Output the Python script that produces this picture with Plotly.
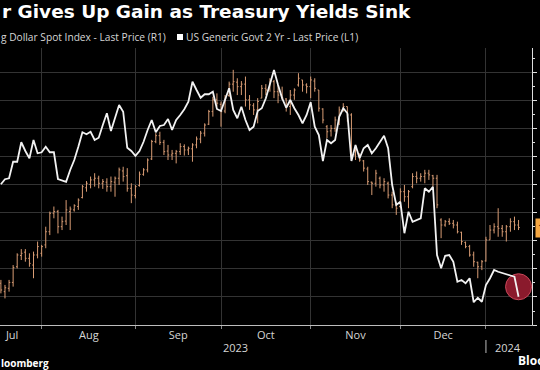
import plotly.graph_objects as go
import pandas as pd

W, H = 540, 370
ML, MR, MT, MB = 0, 8, 48, 45
PW, PH = W - ML - MR, H - MT - MB

def px(x):
    return (x - ML) / PW

def py(y):
    return (H - MB - y) / PH

# ---------------- data ----------------
dates = pd.bdate_range("2023-07-18", periods=128)

ust2y = [
    4.763, 4.783, 4.787, 4.853, 4.853, 4.931, 4.896, 4.867, 4.940, 4.887,
    4.891, 4.913, 4.891, 4.891, 4.784, 4.780, 4.773, 4.820, 4.860, 4.913,
    4.971, 4.963, 4.973, 4.940, 4.949, 5.000, 5.047, 4.976, 5.033, 5.080,
    5.053, 4.909, 4.896, 4.877, 4.896, 4.933, 4.980, 5.020, 4.971, 4.996,
    5.000, 5.024, 4.980, 5.020, 5.040, 5.063, 5.093, 5.173, 5.140, 5.109,
    5.123, 5.123, 5.133, 5.064, 5.056, 5.100, 5.147, 5.060, 5.027, 5.073,
    5.020, 4.980, 4.993, 5.056, 5.067, 5.107, 5.160, 5.220, 5.160, 5.107,
    5.069, 5.100, 5.067, 5.040, 5.007, 5.040, 5.091, 4.993, 4.960, 4.856,
    4.940, 4.927, 4.940, 5.033, 5.067, 5.047, 4.856, 4.920, 4.867, 4.907,
    4.920, 4.887, 4.907, 4.933, 4.957, 4.907, 4.760, 4.680, 4.693, 4.567,
    4.653, 4.613, 4.620, 4.627, 4.747, 4.733, 4.753, 4.480, 4.427, 4.477,
    4.480, 4.453, 4.373, 4.380, 4.367, 4.387, 4.291, 4.309, 4.293, 4.360,
    4.387, 4.420, 4.413, 4.407, 4.402, 4.398, 4.393, 4.313,
]

dxy_open = [
    1194.9, 1191.9, 1193.1, 1195.2, 1200.8, 1204.8, 1206.0, 1203.8, 1201.4, 1205.0,
    1205.6, 1208.6, 1213.3, 1219.9, 1220.5, 1215.1, 1217.1, 1220.5, 1221.1, 1222.3,
    1225.5, 1229.0, 1230.2, 1231.8, 1232.4, 1230.6, 1231.0, 1229.4, 1231.0, 1232.4,
    1235.0, 1233.3, 1228.8, 1226.2, 1229.8, 1233.8, 1235.4, 1239.3, 1245.5, 1247.6,
    1245.2, 1242.1, 1240.7, 1241.3, 1241.9, 1243.7, 1242.5, 1242.9, 1244.3, 1246.4,
    1248.5, 1251.7, 1256.2, 1260.4, 1258.8, 1256.4, 1261.9, 1266.0, 1266.7, 1265.1,
    1266.0, 1260.4, 1258.3, 1256.8, 1261.0, 1264.5, 1264.3, 1266.9, 1263.3, 1262.1,
    1260.7, 1258.0, 1262.1, 1265.7, 1267.5, 1265.7, 1265.1, 1267.1, 1263.9, 1257.1,
    1250.8, 1249.3, 1250.2, 1253.2, 1256.8, 1258.0, 1255.0, 1240.7, 1240.7, 1238.6,
    1235.7, 1231.0, 1230.6, 1232.4, 1230.0, 1230.6, 1226.4, 1222.9, 1222.3, 1227.6,
    1225.8, 1229.4, 1233.0, 1232.4, 1233.0, 1234.2, 1233.3, 1232.4, 1217.5, 1215.7,
    1216.9, 1216.3, 1215.7, 1213.1, 1209.5, 1208.0, 1205.0, 1202.4, 1200.8, 1202.9,
    1210.4, 1213.9, 1215.1, 1214.5, 1213.3, 1215.1, 1216.9, 1215.7,
]
dxy_high = [
    1196.1, 1194.3, 1196.1, 1201.4, 1205.6, 1207.1, 1207.1, 1205.6, 1206.2, 1209.8,
    1208.6, 1215.1, 1220.5, 1222.3, 1221.1, 1218.7, 1224.6, 1222.3, 1223.1, 1225.2,
    1230.0, 1231.4, 1233.0, 1234.2, 1233.3, 1232.1, 1232.4, 1233.0, 1233.0, 1236.2,
    1236.5, 1236.0, 1230.6, 1230.0, 1234.8, 1236.0, 1239.5, 1246.1, 1248.5, 1249.0,
    1246.1, 1244.3, 1242.5, 1242.5, 1244.9, 1244.5, 1243.7, 1244.9, 1247.3, 1249.3,
    1252.0, 1256.8, 1261.5, 1262.7, 1259.8, 1262.1, 1266.9, 1271.1, 1268.1, 1267.1,
    1268.7, 1262.1, 1259.2, 1261.0, 1265.7, 1266.0, 1268.1, 1267.5, 1265.7, 1265.1,
    1261.0, 1263.9, 1264.5, 1269.9, 1267.5, 1266.3, 1268.7, 1268.1, 1263.9, 1257.4,
    1251.4, 1251.4, 1254.4, 1258.0, 1259.2, 1258.0, 1255.6, 1244.3, 1241.3, 1238.9,
    1236.5, 1231.2, 1235.4, 1233.0, 1232.4, 1231.2, 1227.6, 1224.0, 1228.8, 1230.0,
    1228.2, 1234.2, 1234.8, 1234.2, 1235.4, 1235.4, 1233.6, 1233.6, 1218.1, 1217.5,
    1218.1, 1217.5, 1216.9, 1213.3, 1209.8, 1208.6, 1206.2, 1202.6, 1203.2, 1211.5,
    1215.7, 1216.3, 1221.7, 1215.7, 1215.7, 1218.1, 1218.7, 1217.5,
]
dxy_low = [
    1191.3, 1189.5, 1191.9, 1193.7, 1200.2, 1203.2, 1202.6, 1200.8, 1196.7, 1203.8,
    1204.4, 1207.4, 1212.1, 1218.1, 1212.7, 1213.9, 1215.7, 1213.9, 1220.5, 1221.1,
    1225.2, 1227.6, 1228.8, 1229.4, 1228.8, 1228.6, 1227.6, 1227.6, 1225.8, 1230.0,
    1231.2, 1227.6, 1223.5, 1225.2, 1229.4, 1233.3, 1234.5, 1238.9, 1244.9, 1244.3,
    1240.7, 1238.9, 1238.9, 1237.7, 1240.7, 1240.5, 1240.7, 1238.3, 1243.1, 1244.9,
    1247.3, 1251.4, 1254.4, 1258.0, 1250.8, 1255.6, 1261.5, 1263.3, 1262.1, 1262.1,
    1258.0, 1256.8, 1255.0, 1252.0, 1261.0, 1262.1, 1263.3, 1261.0, 1259.2, 1260.4,
    1256.2, 1255.0, 1260.4, 1265.1, 1263.3, 1262.7, 1261.0, 1263.3, 1256.2, 1252.0,
    1246.7, 1247.3, 1249.0, 1251.4, 1256.2, 1252.6, 1238.9, 1238.9, 1238.3, 1234.8,
    1230.0, 1226.4, 1229.4, 1228.8, 1227.6, 1225.2, 1221.7, 1219.3, 1221.7, 1224.0,
    1221.7, 1228.8, 1230.6, 1231.2, 1230.6, 1231.8, 1229.4, 1221.7, 1211.0, 1215.1,
    1215.7, 1214.5, 1212.7, 1208.6, 1207.4, 1204.4, 1200.8, 1196.7, 1199.6, 1202.6,
    1210.4, 1212.7, 1211.5, 1211.5, 1209.8, 1213.3, 1213.9, 1213.9,
]
dxy_close = [
    1192.5, 1193.3, 1195.2, 1200.5, 1205.0, 1205.6, 1203.8, 1202.0, 1205.0, 1208.0,
    1208.0, 1213.3, 1219.9, 1220.5, 1215.1, 1216.9, 1221.1, 1221.4, 1222.6, 1224.6,
    1229.4, 1230.6, 1231.8, 1232.4, 1230.6, 1231.2, 1229.4, 1231.2, 1232.4, 1235.4,
    1233.0, 1228.8, 1226.4, 1229.4, 1233.8, 1235.4, 1238.9, 1245.5, 1247.6, 1245.2,
    1241.9, 1240.7, 1241.3, 1241.9, 1243.7, 1242.5, 1243.1, 1244.3, 1246.4, 1248.5,
    1251.4, 1256.2, 1260.4, 1259.2, 1256.2, 1261.0, 1266.0, 1266.9, 1265.1, 1266.0,
    1260.4, 1258.6, 1256.8, 1259.8, 1264.5, 1263.9, 1266.9, 1263.3, 1262.1, 1261.0,
    1258.0, 1262.1, 1263.9, 1268.1, 1265.7, 1265.1, 1267.5, 1264.5, 1257.4, 1253.2,
    1249.0, 1250.2, 1253.2, 1256.8, 1258.0, 1255.0, 1240.7, 1242.5, 1238.9, 1236.0,
    1231.2, 1230.6, 1234.2, 1230.0, 1231.2, 1226.4, 1222.9, 1221.7, 1227.6, 1225.8,
    1227.6, 1233.0, 1232.4, 1233.0, 1234.2, 1233.6, 1232.4, 1222.9, 1215.7, 1216.9,
    1216.3, 1215.7, 1213.3, 1209.8, 1208.0, 1205.0, 1202.6, 1200.8, 1202.6, 1210.4,
    1213.9, 1215.1, 1214.5, 1213.3, 1215.1, 1216.9, 1215.7, 1214.8,
]

month_labels = ["Jul", "Aug", "Sep", "Oct", "Nov", "Dec"]
month_label_pos = ["2023-07-20 18:00", "2023-08-16 14:00", "2023-09-15 12:00",
                   "2023-10-17 00:00", "2023-11-16 00:00", "2023-12-15 12:00"]
month_starts = ["2023-08-01", "2023-09-01", "2023-10-02", "2023-11-01",
                "2023-12-01", "2024-01-01"]
year_labels = ["2023", "2024"]

title = "r Gives Up Gain as Treasury Yields Sink"
legend1 = "g Dollar Spot Index - Last Price (R1)"
legend2 = "US Generic Govt 2 Yr - Last Price (L1)"

ORANGE = "#d89c74"
GRID = "#333333"
FONT = "Open Sans"
TFONT = "DejaVu Sans"
TXT = "#d6d6d6"

fig = go.Figure()

fig.add_trace(go.Ohlc(
    x=dates, open=dxy_open, high=dxy_high, low=dxy_low, close=dxy_close,
    increasing=dict(line=dict(color=ORANGE, width=1)),
    decreasing=dict(line=dict(color=ORANGE, width=1)),
    tickwidth=0.3, yaxis="y", showlegend=False, hoverinfo="skip",
))

fig.add_trace(go.Scatter(
    x=[dates[-1]], y=[(ust2y[-1] + ust2y[-2]) / 2], yaxis="y2", mode="markers",
    marker=dict(size=26, color="#8a1a2c", line=dict(color="#c8485a", width=1)),
    showlegend=False, hoverinfo="skip",
))

fig.add_trace(go.Scatter(
    x=dates, y=ust2y, yaxis="y2", mode="lines",
    line=dict(color="#f2f2f2", width=1.8),
    showlegend=False, hoverinfo="skip",
))

annotations = [
    dict(text=title, x=px(0), y=py(12), xanchor="left", yanchor="middle",
         font=dict(family=TFONT, size=18.5, color="white", weight="bold")),
    dict(text=legend1, x=px(-1), y=py(37), xanchor="left", yanchor="middle",
         font=dict(family=FONT, size=10.2, color=TXT)),
    dict(text=legend2, x=px(184), y=py(37), xanchor="left", yanchor="middle",
         font=dict(family=FONT, size=10.2, color=TXT)),
    dict(text=year_labels[0], x=px(235), y=py(347), xanchor="center", yanchor="middle",
         font=dict(family=FONT, size=11, color=TXT)),
    dict(text=year_labels[1], x=px(508), y=py(347), xanchor="center", yanchor="middle",
         font=dict(family=FONT, size=11, color=TXT)),
    dict(text="loomberg", x=px(-1), y=py(363), xanchor="left", yanchor="middle",
         font=dict(family=FONT, size=10, color="white", weight="bold")),
    dict(text="Bloo", x=px(516), y=py(360), xanchor="left", yanchor="middle",
         font=dict(family=FONT, size=12, color="white", weight="bold")),
    dict(text=f"{dxy_close[-1]:.2f}", xref="paper", x=1, xshift=3, xanchor="left",
         yref="y", y=dxy_close[-1], yanchor="middle", bgcolor="#f5a742",
         borderpad=2, font=dict(family=FONT, size=10, color="black")),
]
for a in annotations:
    a.setdefault("xref", "paper")
    a.setdefault("yref", "paper")
    a["showarrow"] = False

shapes = [
    dict(type="rect", xref="paper", yref="paper", x0=px(177), x1=px(183),
         y0=py(40), y1=py(34), fillcolor="white", line=dict(width=0)),
    dict(type="line", xref="x", yref="paper", x0="2024-01-01", x1="2024-01-01",
         y0=py(340), y1=py(353), line=dict(color="#bbbbbb", width=1)),
]

fig.update_layout(
    width=W, height=H,
    margin=dict(l=ML, r=MR, t=MT, b=MB, autoexpand=False),
    paper_bgcolor="black", plot_bgcolor="black",
    template="none",
    showlegend=False,
    annotations=annotations,
    shapes=shapes,
    xaxis=dict(
        type="date",
        range=["2023-07-17 18:43", "2024-01-16 07:12"],
        rangebreaks=[dict(bounds=["sat", "mon"])],
        rangeslider=dict(visible=False),
        tickvals=month_label_pos, ticktext=month_labels,
        ticks="", showgrid=False, zeroline=False,
        showline=True, linecolor="#bdbdbd", linewidth=1,
        tickfont=dict(family=FONT, size=11, color=TXT),
        automargin=False,
        minor=dict(tickvals=month_starts, showgrid=True, gridcolor=GRID,
                   gridwidth=1, ticks="outside", ticklen=3, tickcolor="#888888"),
    ),
    yaxis=dict(
        side="right", range=[1180, 1278.9], tick0=1180, dtick=10,
        showgrid=True, gridcolor=GRID, gridwidth=1, zeroline=False,
        showline=True, linecolor="#dddddd", linewidth=1,
        ticks="outside", ticklen=4, tickcolor="#dddddd",
        minor=dict(dtick=5, ticks="outside", ticklen=2, tickcolor="#dddddd", showgrid=False),
        tickfont=dict(family=FONT, size=11, color="white"),
        automargin=False,
    ),
    yaxis2=dict(
        overlaying="y", side="left", range=[4.2, 5.308],
        showgrid=False, zeroline=False, showticklabels=False, ticks="",
        showline=False, automargin=False,
    ),
)

fig.write_html(
    "out.html",
    config={"displayModeBar": False},
    post_script="document.body.style.margin='0';document.body.style.background='black';",
)
